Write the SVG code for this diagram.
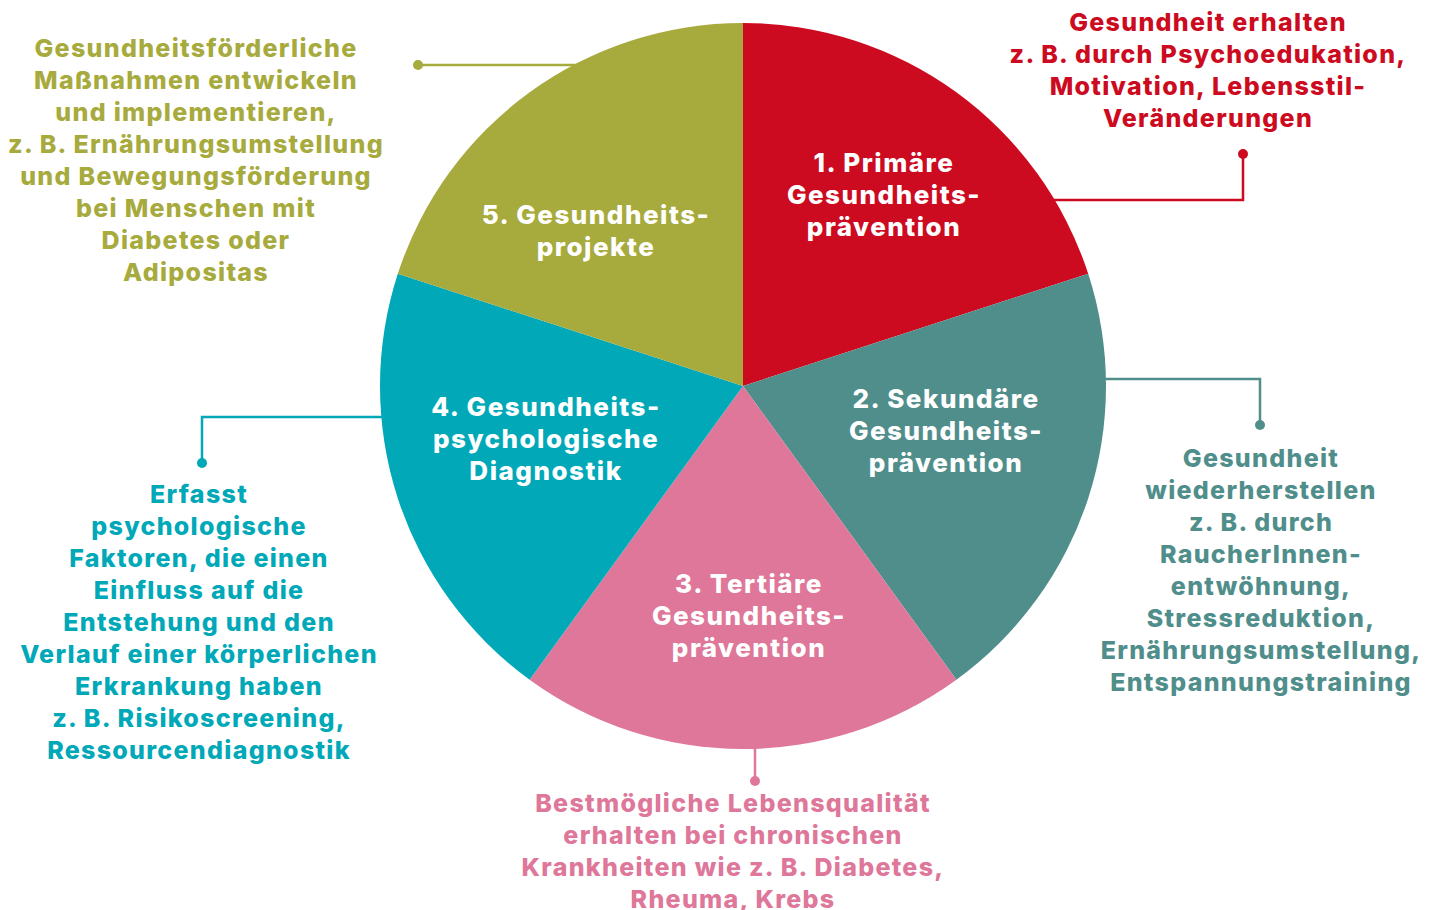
<svg xmlns="http://www.w3.org/2000/svg" width="1439" height="910" viewBox="0 0 1439 910">
  <style>
    text { font-family: Inter, "Open Sans", "Liberation Sans", sans-serif; font-weight: 800; font-size: 25px; letter-spacing: 1.3px; text-anchor: middle; }
    text.in { fill: #ffffff; font-size: 26px; letter-spacing: 1.5px; }
    .red { fill: #cc0a20; } .teal { fill: #508e8b; } .pink { fill: #de7799; } .blue { fill: #00a8b8; } .olive { fill: #a7aa3c; }
    .lred { stroke: #cc0a20; } .lteal { stroke: #508e8b; } .lpink { stroke: #de7799; } .lblue { stroke: #00a8b8; } .lolive { stroke: #a7aa3c; }
    .conn path { fill: none; stroke-width: 2.5; }
  </style>

  <!-- leader lines with end dots -->
  <g id="connectors" class="conn">
    <path class="lolive" d="M418 65 H600"/>
    <circle cx="418" cy="65" r="5" class="olive"/>
    <path class="lred" d="M1243 154 V200 H1040"/>
    <circle cx="1243" cy="154" r="5" class="red"/>
    <path class="lteal" d="M1090 379 H1260 V425"/>
    <circle cx="1260" cy="425" r="5" class="teal"/>
    <path class="lblue" d="M395 417 H202 V463"/>
    <circle cx="202" cy="463" r="5" class="blue"/>
    <path class="lpink" d="M755 740 V781"/>
    <circle cx="755" cy="781" r="5" class="pink"/>
  </g>

  <!-- five equal 72° sectors, centre (743,386), r 363 -->
  <g id="sector1">
    <path class="red" d="M743 386 L743 23 A363 363 0 0 1 1088.2 273.8 Z"/>
    <text class="in"><tspan x="884" y="172">1. Primäre</tspan><tspan x="884" y="204">Gesundheits-</tspan><tspan x="884" y="236">prävention</tspan></text>
  </g>
  <g id="sector2">
    <path class="teal" d="M743 386 L1088.2 273.8 A363 363 0 0 1 956.4 679.7 Z"/>
    <text class="in"><tspan x="946" y="408">2. Sekundäre</tspan><tspan x="946" y="440">Gesundheits-</tspan><tspan x="946" y="472">prävention</tspan></text>
  </g>
  <g id="sector3">
    <path class="pink" d="M743 386 L956.4 679.7 A363 363 0 0 1 529.6 679.7 Z"/>
    <text class="in"><tspan x="749" y="593">3. Tertiäre</tspan><tspan x="749" y="625">Gesundheits-</tspan><tspan x="749" y="657">prävention</tspan></text>
  </g>
  <g id="sector4">
    <path class="blue" d="M743 386 L529.6 679.7 A363 363 0 0 1 397.8 273.8 Z"/>
    <text class="in"><tspan x="546" y="416">4. Gesundheits-</tspan><tspan x="546" y="448">psychologische</tspan><tspan x="546" y="480">Diagnostik</tspan></text>
  </g>
  <g id="sector5">
    <path class="olive" d="M743 386 L397.8 273.8 A363 363 0 0 1 743 23 Z"/>
    <text class="in"><tspan x="596" y="224">5. Gesundheits-</tspan><tspan x="596" y="256">projekte</tspan></text>
  </g>

  <!-- outer descriptions -->
  <g id="note1">
    <text class="red"><tspan x="1208" y="31">Gesundheit erhalten</tspan><tspan x="1208" y="63">z. B. durch Psychoedukation,</tspan><tspan x="1208" y="95">Motivation, Lebensstil-</tspan><tspan x="1208" y="127">Veränderungen</tspan></text>
  </g>
  <g id="note2">
    <text class="teal"><tspan x="1261" y="467">Gesundheit</tspan><tspan x="1261" y="499">wiederherstellen</tspan><tspan x="1261" y="531">z. B. durch</tspan><tspan x="1261" y="563">RaucherInnen-</tspan><tspan x="1261" y="595">entwöhnung,</tspan><tspan x="1261" y="627">Stressreduktion,</tspan><tspan x="1261" y="659">Ernährungsumstellung,</tspan><tspan x="1261" y="691">Entspannungstraining</tspan></text>
  </g>
  <g id="note3">
    <text class="pink"><tspan x="733" y="812">Bestmögliche Lebensqualität</tspan><tspan x="733" y="844">erhalten bei chronischen</tspan><tspan x="733" y="876">Krankheiten wie z. B. Diabetes,</tspan><tspan x="733" y="908">Rheuma, Krebs</tspan></text>
  </g>
  <g id="note4">
    <text class="blue"><tspan x="199" y="503">Erfasst</tspan><tspan x="199" y="535">psychologische</tspan><tspan x="199" y="567">Faktoren, die einen</tspan><tspan x="199" y="599">Einfluss  auf die</tspan><tspan x="199" y="631">Entstehung und den</tspan><tspan x="199" y="663">Verlauf einer körperlichen</tspan><tspan x="199" y="695">Erkrankung haben</tspan><tspan x="199" y="727">z. B. Risikoscreening,</tspan><tspan x="199" y="759">Ressourcendiagnostik</tspan></text>
  </g>
  <g id="note5">
    <text class="olive"><tspan x="196" y="57">Gesundheitsförderliche</tspan><tspan x="196" y="89">Maßnahmen entwickeln</tspan><tspan x="196" y="121">und implementieren,</tspan><tspan x="196" y="153">z. B. Ernährungsumstellung</tspan><tspan x="196" y="185">und Bewegungsförderung</tspan><tspan x="196" y="217">bei Menschen mit</tspan><tspan x="196" y="249">Diabetes oder</tspan><tspan x="196" y="281">Adipositas</tspan></text>
  </g>
</svg>
